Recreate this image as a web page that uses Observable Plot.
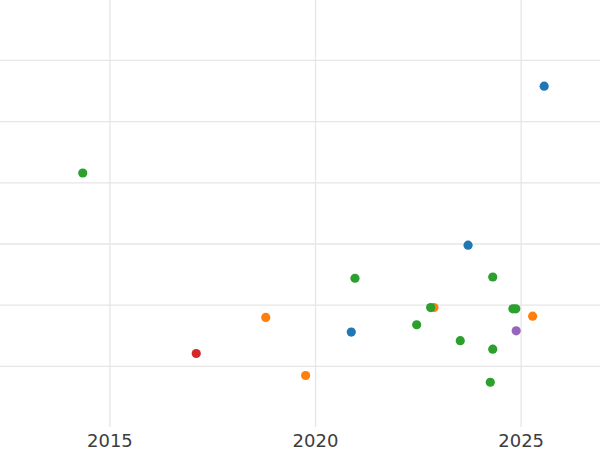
<!DOCTYPE html>
<html>
<head>
<meta charset="utf-8">
<script src="https://cdn.jsdelivr.net/npm/d3@7"></script>
<script src="https://cdn.jsdelivr.net/npm/@observablehq/plot@0.6"></script>
<style>
  html, body { margin: 0; padding: 0; background: #fff; }
  #chart svg { display: block; }
</style>
</head>
<body>
<div id="chart"></div>
<script>
// Categories and colors (category10)
const categories = ["A", "B", "C", "D", "E"];
const categoryColors = ["#1f77b4", "#ff7f0e", "#2ca02c", "#d62728", "#9467bd"];

// Points per category: year (x) and value (y, arbitrary units)
const yearsA = [2025.56, 2023.71, 2020.87];
const valuesA = [5.58, 2.98, 1.56];

const yearsB = [2018.79, 2019.76, 2022.88, 2025.28];
const valuesB = [1.80, 0.85, 1.96, 1.82];

const yearsC = [2014.34, 2020.96, 2024.31, 2022.80, 2024.80, 2024.87, 2022.46, 2023.52, 2024.31, 2024.25];
const valuesC = [4.16, 2.44, 2.46, 1.96, 1.94, 1.94, 1.68, 1.42, 1.28, 0.74];

const yearsD = [2017.10];
const valuesD = [1.21];

const yearsE = [2024.88];
const valuesE = [1.58];

// Axis ticks
const xTicks = [2015, 2020, 2025];
const yGridTicks = [1, 2, 3, 4, 5, 6];

const seriesYears = [yearsA, yearsB, yearsC, yearsD, yearsE];
const seriesValues = [valuesA, valuesB, valuesC, valuesD, valuesE];

const data = [];
categories.forEach((c, i) => {
  seriesYears[i].forEach((yr, j) => data.push({category: c, year: yr, value: seriesValues[i][j]}));
});

const chart = Plot.plot({
  width: 600,
  height: 450,
  marginLeft: 0,
  marginRight: 0,
  marginTop: 0,
  marginBottom: 23,
  style: {fontFamily: "DejaVu Sans", fontSize: "18px", color: "#444", background: "#fff"},
  x: {domain: [2012.34, 2026.93], label: null},
  y: {domain: [0, 6.98], axis: null, label: null},
  color: {domain: categories, range: categoryColors},
  marks: [
    Plot.gridX(xTicks, {stroke: "#e6e6e6", strokeOpacity: 1, strokeWidth: 1.3}),
    Plot.gridY(yGridTicks, {stroke: "#e6e6e6", strokeOpacity: 1, strokeWidth: 1.3}),
    Plot.axisX(xTicks, {tickSize: 0, tickPadding: 7, fontSize: 18, fill: "#3d3d3d", label: null, tickFormat: d => String(d)}),
    Plot.dot(data, {x: "year", y: "value", fill: "category", r: 4.6, stroke: "none"})
  ]
});
document.getElementById("chart").appendChild(chart);
</script>
</body>
</html>
